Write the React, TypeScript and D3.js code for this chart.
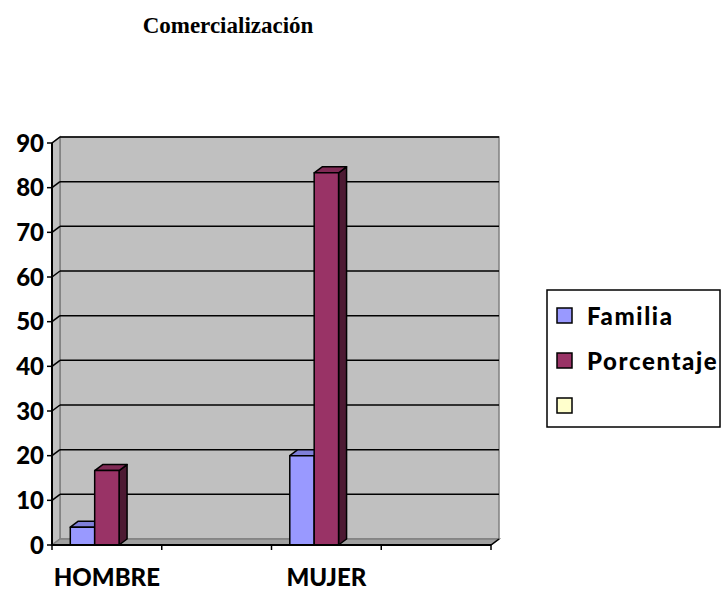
import React from "react";
import * as d3 from "d3";

const title = "Comercialización";
const categories = ["HOMBRE", "", "MUJER", ""];
const seriesNames = ["Familia", "Porcentaje", ""];
const familia: (number | null)[] = [4, null, 20, null];
const porcentaje: (number | null)[] = [16.67, null, 83.33, null];
const blankSeries: (number | null)[] = [null, null, null, null];
const yTicks = [0, 10, 20, 30, 40, 50, 60, 70, 80, 90];

const seriesValues = [familia, porcentaje, blankSeries];
const seriesColors = [
  { front: "#9999FF", top: "#7F7FD9", side: "#4D4D80" },
  { front: "#993366", top: "#802A55", side: "#4D1A33" },
  { front: "#FFFFCC", top: "#D9D9AD", side: "#808066" },
];

const W = 721;
const H = 591;
const DX = 8;
const DY = 6;
const FONT = "Lato, 'Open Sans', sans-serif";

export default function App() {
  const x0 = 52;
  const x1 = 491;
  const y = d3.scaleLinear().domain([0, 90]).range([545, 143]);
  const x = d3.scaleBand<string>().domain(categories.map((c, i) => String(i))).range([x0, x1]).padding(0);
  const xs = d3
    .scaleBand<string>()
    .domain(seriesNames.map((s, i) => String(i)))
    .range([0, x.bandwidth()])
    .paddingInner(0)
    .paddingOuter(0.75);

  const yBase = y(0);
  const yTop = y(90);
  const pt = (pts: [number, number][]) => pts.map((p) => p.join(",")).join(" ");

  const tickXs = [...categories.map((c, i) => x(String(i)) as number), x1];

  return (
    <svg width={W} height={H} style={{ position: "absolute", left: 0, top: 0, background: "#fff" }}>
      <text x={228} y={33} textAnchor="middle" fontFamily="'Liberation Serif', 'Times New Roman', serif" fontWeight="bold" fontSize={23}>
        {title}
      </text>

      {/* back wall */}
      <rect x={x0 + DX} y={yTop - DY} width={x1 - x0} height={yBase - yTop} fill="#C0C0C0" stroke="#808080" strokeWidth={1.5} />
      {/* side wall */}
      <polygon
        points={pt([
          [x0, yTop],
          [x0 + DX, yTop - DY],
          [x0 + DX, yBase - DY],
          [x0, yBase],
        ])}
        fill="#C0C0C0"
        stroke="#808080"
        strokeWidth={1.5}
      />
      {/* floor */}
      <polygon
        points={pt([
          [x0, yBase],
          [x0 + DX, yBase - DY],
          [x1 + DX, yBase - DY],
          [x1, yBase],
        ])}
        fill="#A0A0A0"
        stroke="#808080"
        strokeWidth={1.5}
      />

      {/* gridlines */}
      {yTicks
        .filter((t) => t > 0)
        .map((t) => (
          <g key={"g" + t}>
            <line x1={x0 + DX} x2={x1 + DX} y1={y(t) - DY} y2={y(t) - DY} stroke="#000" strokeWidth={1.5} />
            <line x1={x0} x2={x0 + DX} y1={y(t)} y2={y(t) - DY} stroke="#000" strokeWidth={1.5} />
          </g>
        ))}

      {/* bars */}
      {categories.map((c, ci) =>
        seriesValues.map((vals, si) => {
          const v = vals[ci];
          if (v == null) return null;
          const bx0 = (x(String(ci)) as number) + (xs(String(si)) as number);
          const bx1 = bx0 + xs.bandwidth();
          const yt = y(v);
          const col = seriesColors[si];
          return (
            <g key={`b${ci}-${si}`} stroke="#000" strokeWidth={1.5} strokeLinejoin="round">
              <polygon
                points={pt([
                  [bx1, yt],
                  [bx1 + DX, yt - DY],
                  [bx1 + DX, yBase - DY],
                  [bx1, yBase],
                ])}
                fill={col.side}
              />
              <polygon
                points={pt([
                  [bx0, yt],
                  [bx0 + DX, yt - DY],
                  [bx1 + DX, yt - DY],
                  [bx1, yt],
                ])}
                fill={col.top}
              />
              <rect x={bx0} y={yt} width={bx1 - bx0} height={yBase - yt} fill={col.front} />
            </g>
          );
        })
      )}

      {/* axes */}
      <line x1={x0} x2={x0} y1={yTop} y2={yBase} stroke="#000" strokeWidth={2} />
      <line x1={x0} x2={x1} y1={yBase} y2={yBase} stroke="#000" strokeWidth={2} />
      <line x1={x1} x2={x1 + DX} y1={yBase} y2={yBase - DY} stroke="#000" strokeWidth={1.5} />
      {yTicks.map((t) => (
        <g key={"t" + t}>
          <line x1={x0 - 5} x2={x0} y1={y(t)} y2={y(t)} stroke="#000" strokeWidth={1.5} />
          <text x={44} y={y(t)} dy="0.36em" textAnchor="end" fontFamily={FONT} fontWeight={900} fontSize={24}>
            {t}
          </text>
        </g>
      ))}
      {tickXs.map((tx, i) => (
        <line key={"xt" + i} x1={tx} x2={tx} y1={yBase} y2={yBase + 5} stroke="#000" strokeWidth={1.5} />
      ))}
      {categories.map((c, ci) =>
        c ? (
          <text
            key={"xl" + ci}
            x={(x(String(ci)) as number) + x.bandwidth() / 2}
            y={586}
            textAnchor="middle"
            fontFamily={FONT}
            fontWeight={900}
            fontSize={24}
          >
            {c}
          </text>
        ) : null
      )}

      {/* legend */}
      <rect x={547} y={290} width={173} height={137} fill="#fff" stroke="#000" strokeWidth={1.5} />
      {seriesNames.map((s, si) => {
        const cy = 316 + si * 45;
        return (
          <g key={"lg" + si}>
            <rect x={557} y={cy - 8} width={15} height={15} fill={seriesColors[si].front} stroke="#000" strokeWidth={1.5} />
            <text x={587} y={cy} dy="0.36em" fontFamily={FONT} fontWeight={900} fontSize={24} letterSpacing={1.6}>
              {s}
            </text>
          </g>
        );
      })}
    </svg>
  );
}
